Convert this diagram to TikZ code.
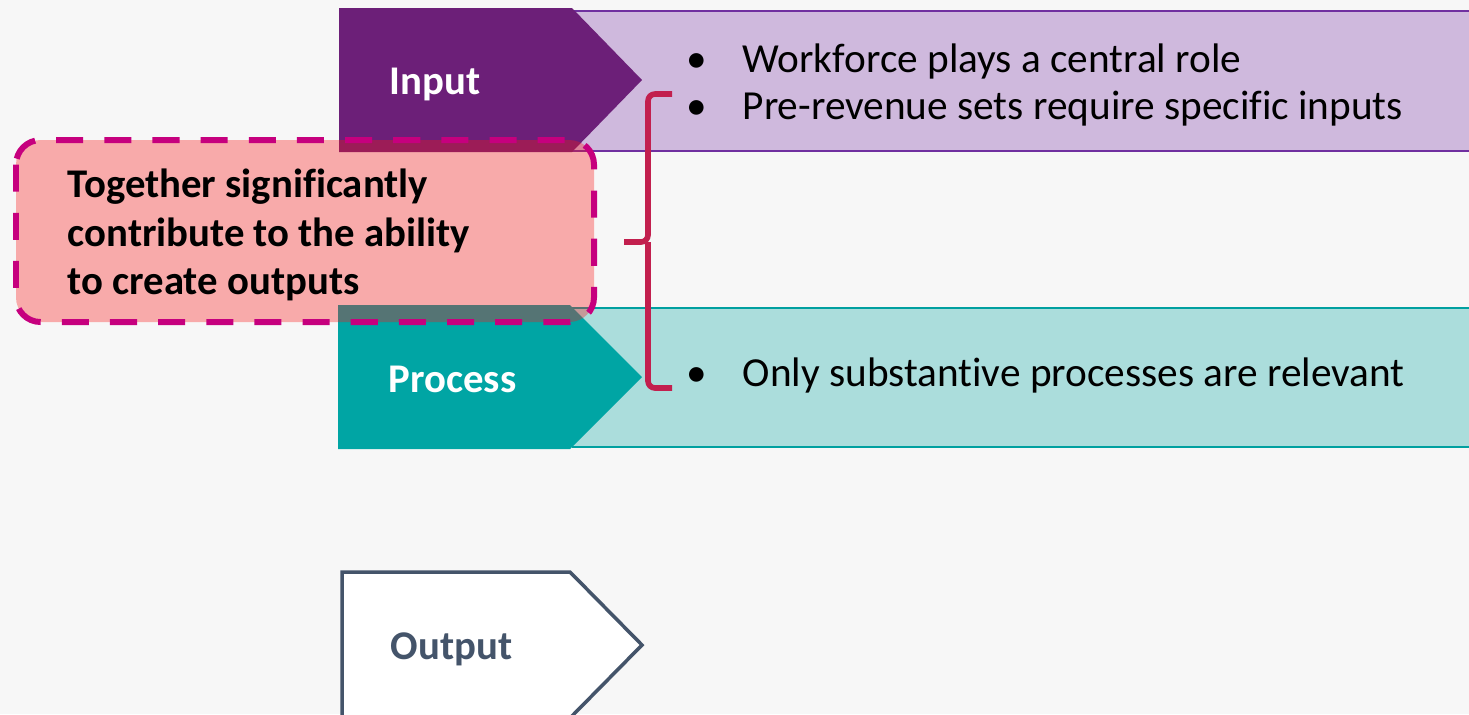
\documentclass[tikz,border=0pt]{standalone}
\usepackage{fontspec}
\setmainfont{Carlito}[Ligatures=NoCommon]
\usepackage{tikz}
\definecolor{inDark}{HTML}{6C1F78}
\definecolor{inLight}{HTML}{CFB9DD}
\definecolor{inLine}{HTML}{7030A0}
\definecolor{prDark}{HTML}{00A5A4}
\definecolor{prLight}{HTML}{ABDDDC}
\definecolor{prLine}{HTML}{00A0A0}
\definecolor{outLine}{HTML}{44546A}
\definecolor{noteFill}{RGB}{250,24,24}
\definecolor{noteLine}{HTML}{C6007E}
\definecolor{braceRed}{HTML}{C21F4E}
\definecolor{pageBg}{HTML}{F7F7F7}

\begin{document}
\begin{tikzpicture}[x=0.1mm, y=-0.1mm,
    band/.style={line width=0.8pt},
    tag/.style={anchor=base west, inner sep=0pt, font=\fontsize{11.6}{13}\selectfont\bfseries},
    item/.style={anchor=base west, inner sep=0pt, font=\fontsize{11.75}{14}\selectfont},
    dot/.style={anchor=base, inner sep=0pt, font=\fontsize{11.75}{14}\selectfont}]
    \fill[pageBg] (0,0) rectangle (1469,714);
    \useasboundingbox (0,0) rectangle (1469,714);

    % input row
    \fill[inLight] (560,11) rectangle (1480,151);
    \draw[inLine, band] (572,11) -- (1480,11) (572,151) -- (1480,151);
    \fill[inDark] (339,8) -- (572,8) -- (642,80) -- (572,152) -- (339,152) -- cycle;
    \node[tag, white] (input) at (389,94) {Input};
    \node[dot] (dotA) at (697,72) {•};
    \node[item] (workforce) at (742,72) {Workforce plays a central role};
    \node[dot] (dotB) at (697,119) {•};
    \node[item] (prerev) at (742,119) {Pre-revenue sets require specific inputs};

    % process row
    \fill[prLight] (560,308) rectangle (1480,447);
    \draw[prLine, band] (572,308) -- (1480,308) (572,447) -- (1480,447);
    \fill[prDark] (338,305) -- (570,305) -- (642,377) -- (570,449) -- (338,449) -- cycle;
    \node[tag, white] (process) at (388,392) {Process};
    \node[dot] (dotC) at (697,386) {•};
    \node[item] (substantive) at (742,386) {Only substantive processes are relevant};

    % output row
    \draw[outLine, line width=1pt, fill=white] (342,572) -- (570,572) -- (642,645) -- (570,718) -- (342,718) -- cycle;
    \node[tag, outLine] (output) at (390,659) {Output};

    % note
    \draw[noteLine, line width=1.7pt, dash pattern=on 7.7pt off 6pt,
        fill=noteFill, fill opacity=0.34, rounded corners=7pt] (16,140) rectangle (594,322);
    \node[anchor=west, align=left, inner sep=0pt, font=\fontsize{11.6}{13.9}\selectfont\bfseries]
        (note) at (67,235) {Together significantly\\contribute to the ability\\to create outputs};

    % brace
    \coordinate (brTop) at (672,94);
    \coordinate (brMid) at (624,242);
    \coordinate (brBot) at (672,388);
    \draw[braceRed, line width=1.6pt, rounded corners=2pt]
        (brTop) -| (648,242) -- (brMid) (648,242) |- (brBot);
\end{tikzpicture}
\end{document}
